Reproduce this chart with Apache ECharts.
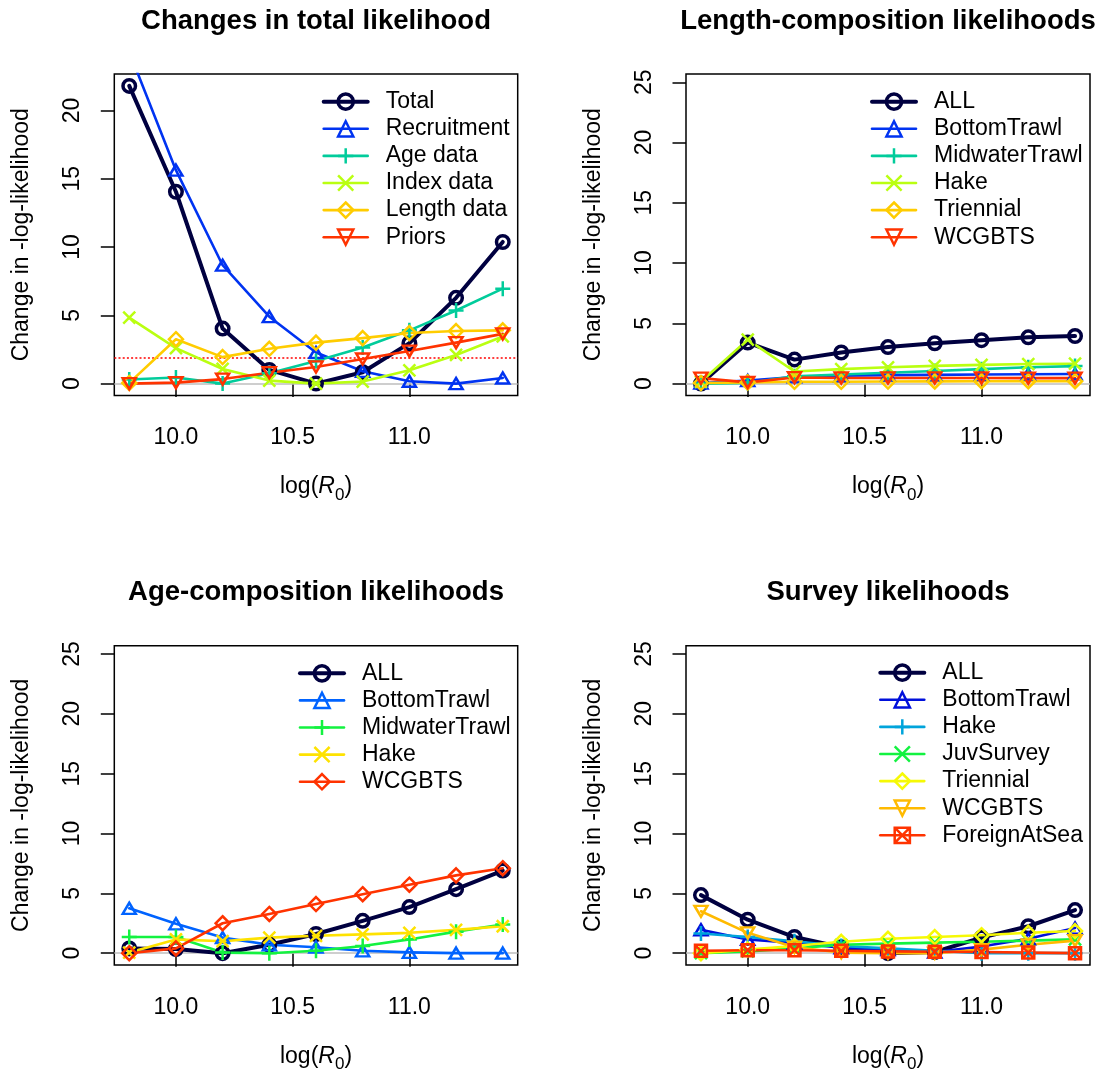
<!DOCTYPE html>
<html>
<head>
<meta charset="utf-8">
<script src="https://cdn.jsdelivr.net/npm/echarts@6/dist/echarts.min.js"></script>
<style>html,body{margin:0;padding:0;background:#fff}#c{width:1099px;height:1074px}</style>
</head>
<body>
<div id="c"></div>
<script>
// ---------------- data ----------------
const logR0 = [9.8, 10.0, 10.2, 10.4, 10.6, 10.8, 11.0, 11.2, 11.4];
const xTickValues = [10.0, 10.5, 11.0];
const yTicksTotal = [0, 5, 10, 15, 20];
const yTicksComp = [0, 5, 10, 15, 20, 25];
const chiSqThreshold = 1.92;

// Panel 1: Changes in total likelihood
const totalNames = ['Total', 'Recruitment', 'Age data', 'Index data', 'Length data', 'Priors'];
const totalTotal       = [21.8, 14.05, 4.03, 1.0, 0.0, 0.83, 2.96, 6.28, 10.37];
const totalRecruitment = [24.3, 15.63, 8.67, 4.9, 2.28, 0.9, 0.17, 0.0, 0.41];
const totalAge         = [0.3, 0.45, 0.0, 0.75, 1.65, 2.65, 3.9, 5.35, 6.95];
const totalIndex       = [4.83, 2.6, 1.07, 0.22, 0.0, 0.15, 0.97, 2.1, 3.45];
const totalLength      = [0.05, 3.25, 1.94, 2.55, 3.0, 3.33, 3.7, 3.85, 3.9];
const totalPriors      = [0.0, 0.07, 0.33, 0.8, 1.22, 1.8, 2.38, 3.0, 3.64];

// Panel 2: Length-composition likelihoods
const lenNames = ['ALL', 'BottomTrawl', 'MidwaterTrawl', 'Hake', 'Triennial', 'WCGBTS'];
const lenAll       = [0.0, 3.4, 1.99, 2.58, 3.03, 3.35, 3.6, 3.84, 3.95];
const lenBottom    = [0.05, 0.25, 0.55, 0.65, 0.7, 0.72, 0.75, 0.78, 0.8];
const lenMidwater  = [0.0, 0.05, 0.6, 0.75, 0.9, 1.05, 1.2, 1.35, 1.45];
const lenHake      = [0.15, 3.65, 1.0, 1.2, 1.35, 1.47, 1.55, 1.62, 1.65];
const lenTriennial = [0.05, 0.1, 0.15, 0.15, 0.17, 0.18, 0.2, 0.2, 0.2];
const lenWCGBTS    = [0.45, 0.1, 0.5, 0.47, 0.47, 0.47, 0.47, 0.45, 0.45];

// Panel 3: Age-composition likelihoods
const ageNames = ['ALL', 'BottomTrawl', 'MidwaterTrawl', 'Hake', 'WCGBTS'];
const ageAll      = [0.4, 0.35, 0.0, 0.7, 1.6, 2.7, 3.85, 5.35, 6.9];
const ageBottom   = [3.75, 2.45, 1.3, 0.7, 0.5, 0.2, 0.07, 0.0, 0.0];
const ageMidwater = [1.35, 1.35, 0.05, 0.0, 0.2, 0.6, 1.15, 1.8, 2.4];
const ageHake     = [0.05, 1.15, 1.0, 1.3, 1.45, 1.57, 1.7, 1.95, 2.25];
const ageWCGBTS   = [0.0, 0.4, 2.5, 3.28, 4.1, 4.93, 5.72, 6.5, 7.1];

// Panel 4: Survey likelihoods
const surNames = ['ALL', 'BottomTrawl', 'Hake', 'JuvSurvey', 'Triennial', 'WCGBTS', 'ForeignAtSea'];
const surAll       = [4.85, 2.8, 1.35, 0.5, 0.0, 0.1, 1.3, 2.25, 3.6];
const surBottom    = [1.95, 1.15, 0.85, 0.45, 0.3, 0.1, 0.55, 1.2, 2.1];
const surHake      = [1.65, 1.35, 1.0, 0.6, 0.4, 0.2, 0.0, 0.0, 0.0];
const surJuv       = [0.0, 0.15, 0.4, 0.7, 0.8, 0.88, 0.95, 1.05, 1.15];
const surTriennial = [0.0, 0.3, 0.6, 0.95, 1.2, 1.35, 1.5, 1.7, 1.85];
const surWCGBTS    = [3.5, 1.7, 0.5, 0.05, 0.0, 0.0, 0.3, 0.7, 1.05];
const surForeign   = [0.2, 0.25, 0.25, 0.2, 0.15, 0.12, 0.1, 0.05, 0.0];

// ---------------- styles ----------------
const FF = 'Liberation Sans, Arial, sans-serif';
const COL6 = ['#000040', '#0033F1', '#01CC9B', '#BAFF11', '#FFCC00', '#FF3300'];
const COL5 = ['#000040', '#0063FF', '#13F240', '#FEE201', '#FF3300'];
const COL7 = ['#000040', '#0010DB', '#00A4DB', '#13F240', '#F6F905', '#FFBA00', '#FF3300'];
const SYM = {
  circle:  {symbol: 'circle', size: 12.5, rot: 0},
  up:      {symbol: 'triangle', size: [13, 11], rot: 0},
  plus:    {symbol: 'path://M0,5L10,5M5,0L5,10', size: 15, rot: 0},
  cross:   {symbol: 'path://M0,0L10,10M0,10L10,0', size: 12, rot: 0},
  diamond: {symbol: 'diamond', size: 14, rot: 0},
  down:    {symbol: 'triangle', size: [13, 11], rot: 180},
  squarex: {symbol: 'path://M0,0L10,0L10,10L0,10ZM0,0L10,10M0,10L10,0', size: 12, rot: 0}
};
const SYM6 = ['circle', 'up', 'plus', 'cross', 'diamond', 'down'];
const SYM5 = ['circle', 'up', 'plus', 'cross', 'diamond'];
const SYM7 = ['circle', 'up', 'plus', 'cross', 'diamond', 'down', 'squarex'];

const panels = [
  {key: 'tot', title: 'Changes in total likelihood', names: totalNames,
   values: [totalTotal, totalRecruitment, totalAge, totalIndex, totalLength, totalPriors],
   colors: COL6, syms: SYM6, yMin: -0.872, yMax: 22.672, yTicks: yTicksTotal, threshold: true,
   grid: {left: 114.3, top: 74, width: 403.4, height: 321.5}, legend: {left: 321.7, row1: 101.7}},
  {key: 'len', title: 'Length-composition likelihoods', names: lenNames,
   values: [lenAll, lenBottom, lenMidwater, lenHake, lenTriennial, lenWCGBTS],
   colors: COL6, syms: SYM6, yMin: -0.988, yMax: 25.688, yTicks: yTicksComp, threshold: false,
   grid: {left: 686, top: 74, width: 404, height: 321.5}, legend: {left: 870, row1: 101.7}},
  {key: 'age', title: 'Age-composition likelihoods', names: ageNames,
   values: [ageAll, ageBottom, ageMidwater, ageHake, ageWCGBTS],
   colors: COL5, syms: SYM5, yMin: -0.988, yMax: 25.688, yTicks: yTicksComp, threshold: false,
   grid: {left: 114.3, top: 645.7, width: 403.4, height: 322}, legend: {left: 298, row1: 673.3}},
  {key: 'sur', title: 'Survey likelihoods', names: surNames,
   values: [surAll, surBottom, surHake, surJuv, surTriennial, surWCGBTS, surForeign],
   colors: COL7, syms: SYM7, yMin: -0.988, yMax: 25.688, yTicks: yTicksComp, threshold: false,
   grid: {left: 686, top: 645.7, width: 404, height: 322}, legend: {left: 878.3, row1: 672.7}}
];

const ROW = 27.1;
const option = {
  animation: false,
  backgroundColor: '#ffffff',
  textStyle: {fontFamily: FF},
  grid: [], xAxis: [], yAxis: [], series: [], legend: [], graphic: []
};

panels.forEach((p, pi) => {
  option.grid.push(Object.assign({show: true, borderColor: '#000', borderWidth: 1.5,
    backgroundColor: 'transparent'}, p.grid));
  option.xAxis.push({
    type: 'value', gridIndex: pi, min: 9.736, max: 11.464,
    axisLine: {show: false}, splitLine: {show: false},
    axisTick: {show: true, inside: false, length: 13.5, customValues: xTickValues,
      lineStyle: {color: '#000', width: 1.5}},
    axisLabel: {customValues: xTickValues, formatter: v => v.toFixed(1), fontSize: 23,
      fontFamily: FF, color: '#000', margin: 31},
    name: '{a|log(}{i|R}{s|0}{a|)}', nameLocation: 'middle', nameGap: 75,
    nameTextStyle: {rich: {
      a: {fontSize: 23, fontFamily: FF, color: '#000', lineHeight: 33},
      i: {fontSize: 23, fontFamily: FF, color: '#000', fontStyle: 'italic', lineHeight: 33},
      s: {fontSize: 17, fontFamily: FF, color: '#000', verticalAlign: 'bottom'}
    }}
  });
  option.yAxis.push({
    type: 'value', gridIndex: pi, min: p.yMin, max: p.yMax,
    axisLine: {show: false}, splitLine: {show: false},
    axisTick: {show: true, inside: false, length: 13.5, customValues: p.yTicks,
      lineStyle: {color: '#000', width: 1.5}},
    axisLabel: {customValues: p.yTicks, formatter: v => String(v), rotate: 90, fontSize: 23,
      fontFamily: FF, color: '#000', margin: 30},
    name: 'Change in -log-likelihood', nameLocation: 'middle', nameRotate: 90, nameGap: 81,
    nameTextStyle: {fontSize: 23, fontFamily: FF, color: '#000'}
  });

  const legendData = [];
  p.names.forEach((nm, si) => {
    const sym = SYM[p.syms[si]];
    const col = p.colors[si];
    const lw = si === 0 ? 4 : 2.6;
    const bw = si === 0 ? 3.5 : 2.5;
    const sName = nm + '|' + p.key;
    const s = {
      type: 'line', name: sName, xAxisIndex: pi, yAxisIndex: pi,
      data: logR0.map((x, i) => [x, p.values[si][i]]),
      symbol: sym.symbol, symbolSize: sym.size, symbolRotate: sym.rot,
      showSymbol: true, showAllSymbol: true, clip: true, silent: true,
      lineStyle: {color: col, width: lw, join: 'round', cap: 'round'},
      itemStyle: {color: 'transparent', borderColor: col, borderWidth: bw},
      emphasis: {disabled: true}
    };
    if (si === 0) {
      const lines = [{yAxis: 0, lineStyle: {color: '#BEBEBE', type: 'solid', width: 1.5}}];
      if (p.threshold) {
        lines.push({yAxis: chiSqThreshold, lineStyle: {color: '#FF0000', type: [2, 2.2], width: 1.5}});
      }
      s.markLine = {z: 1, silent: true, symbol: ['none', 'none'], label: {show: false},
        animation: false, data: lines};
    }
    option.series.push(s);
    legendData.push({name: sName,
      itemStyle: {color: 'transparent', borderColor: col, borderWidth: bw},
      lineStyle: {color: col, width: lw, type: 'solid'}});
  });

  option.legend.push({
    show: true, orient: 'vertical', align: 'left', selectedMode: false,
    left: p.legend.left, top: p.legend.row1 - ROW / 2, padding: 0,
    itemWidth: 44, itemHeight: 19, itemGap: 0,
    data: legendData,
    formatter: name => name.split('|')[0],
    textStyle: {fontSize: 23, fontFamily: FF, color: '#000', lineHeight: ROW, padding: [0, 0, 0, 13]}
  });

  option.graphic.push({
    type: 'text', silent: true,
    x: p.grid.left + p.grid.width / 2, y: p.grid.top - 53,
    style: {text: p.title, fontSize: 27.5, fontWeight: 'bold', fontFamily: FF, fill: '#000',
      textAlign: 'center', textVerticalAlign: 'middle'}
  });
});

const chart = echarts.init(document.getElementById('c'), null, {renderer: 'canvas'});
chart.setOption(option);
</script>
</body>
</html>
